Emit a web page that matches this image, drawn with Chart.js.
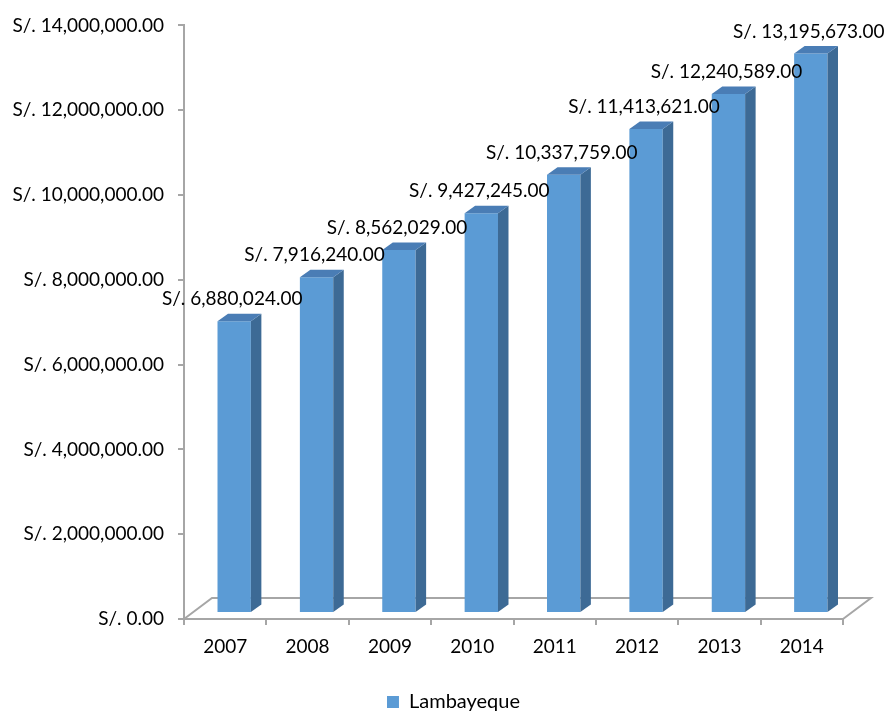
<!DOCTYPE html>
<html>
<head>
<meta charset="utf-8">
<script src="https://cdn.jsdelivr.net/npm/chart.js@4.4.1/dist/chart.umd.min.js"></script>
<style>
  html, body { margin: 0; padding: 0; background: #fff; }
  #wrap { width: 886px; height: 712px; }
</style>
</head>
<body>
<div id="wrap"><canvas id="chart" width="886" height="712"></canvas></div>
<script>
// Lambayeque yearly amounts
const years = ['2007', '2008', '2009', '2010', '2011', '2012', '2013', '2014'];
const lambayeque = [6880024, 7916240, 8562029, 9427245, 10337759, 11413621, 12240589, 13195673];
const yTicks = [0, 2000000, 4000000, 6000000, 8000000, 10000000, 12000000, 14000000];

const FONT = 'Lato';
const axisGray = '#a6a6a6';
const front = '#5b9bd5';
const side = '#3d6a95';
const topFace = '#4a7db5';

// offsets for the pseudo-3D look
const shift = { x: 9, y: -6 };     // bars sit a bit back on the floor
const depth = { x: 10.5, y: -7.5 }; // bar thickness
const floorDepth = { x: 28, y: -21 };

function soles(v) {
    return 'S/. ' + v.toLocaleString('en-US', { minimumFractionDigits: 2, maximumFractionDigits: 2 });
}

// floor drawn under the bars
const floorPlugin = {
    id: 'floor',
    afterLayout(chart) {
        // nudge the legend to the right a little
        chart.legend.left += 32;
        chart.legend.right += 32;
    },
    beforeDatasetsDraw(chart) {
        const { ctx, chartArea: a } = chart;
        ctx.save();
        ctx.strokeStyle = axisGray;
        ctx.lineWidth = 2;
        ctx.beginPath();
        ctx.moveTo(a.left, a.bottom);
        ctx.lineTo(a.left + floorDepth.x, a.bottom + floorDepth.y);
        ctx.lineTo(a.right + floorDepth.x, a.bottom + floorDepth.y);
        ctx.lineTo(a.right, a.bottom);
        ctx.stroke();
        ctx.restore();
    }
};

// moves the bars back and adds side and top faces
const boxPlugin = {
    id: 'box3d',
    beforeDatasetDraw(chart) {
        chart.ctx.save();
        chart.ctx.translate(shift.x, shift.y);
    },
    afterDatasetDraw(chart, args) {
        const ctx = chart.ctx;
        args.meta.data.forEach(bar => {
            const p = bar.getProps(['x', 'y', 'base', 'width'], true);
            const l = p.x - p.width / 2, r = p.x + p.width / 2;
            ctx.fillStyle = side;
            ctx.beginPath();
            ctx.moveTo(r, p.y);
            ctx.lineTo(r + depth.x, p.y + depth.y);
            ctx.lineTo(r + depth.x, p.base + depth.y);
            ctx.lineTo(r, p.base);
            ctx.closePath();
            ctx.fill();
            ctx.fillStyle = topFace;
            ctx.beginPath();
            ctx.moveTo(l, p.y);
            ctx.lineTo(l + depth.x, p.y + depth.y);
            ctx.lineTo(r + depth.x, p.y + depth.y);
            ctx.lineTo(r, p.y);
            ctx.closePath();
            ctx.fill();
        });
        ctx.restore();
    },
    afterDatasetsDraw(chart) {
        const ctx = chart.ctx;
        const meta = chart.getDatasetMeta(0);
        ctx.save();
        ctx.font = '19px ' + FONT;
        ctx.fillStyle = '#000';
        ctx.textAlign = 'center';
        ctx.textBaseline = 'middle';
        meta.data.forEach((bar, i) => {
            const p = bar.getProps(['x', 'y'], true);
            ctx.fillText(soles(lambayeque[i]), p.x + shift.x - 2, p.y + shift.y - 22);
        });
        ctx.restore();
    }
};

new Chart(document.getElementById('chart'), {
    type: 'bar',
    data: {
        labels: years,
        datasets: [{
            label: 'Lambayeque',
            data: lambayeque,
            backgroundColor: front,
            borderWidth: 0,
            categoryPercentage: 1,
            barPercentage: 0.405
        }]
    },
    options: {
        responsive: false,
        animation: false,
        layout: { padding: { top: 22, right: 43, bottom: -10, left: 0 } },
        plugins: {
            legend: {
                position: 'bottom',
                labels: {
                    font: { family: FONT, size: 20 },
                    color: '#000',
                    boxWidth: 12,
                    boxHeight: 12,
                    padding: 0
                }
            },
            tooltip: { enabled: false }
        },
        scales: {
            x: {
                grid: { drawOnChartArea: false, drawTicks: true, tickLength: 6, color: axisGray, lineWidth: 2 },
                border: { display: true, color: axisGray, width: 2 },
                ticks: { font: { family: FONT, size: 19 }, color: '#000', padding: 10 },
                afterFit(scale) { scale.height = 73; }
            },
            y: {
                min: 0,
                max: 14000000,
                afterBuildTicks(scale) { scale.ticks = yTicks.map(v => ({ value: v })); },
                grid: { drawOnChartArea: false, drawTicks: true, tickLength: 6, color: axisGray, lineWidth: 2 },
                border: { display: true, color: axisGray, width: 2 },
                ticks: { font: { family: FONT, size: 19 }, color: '#000', padding: 14, callback: v => soles(v) },
                afterFit(scale) { scale.width = 184; }
            }
        }
    },
    plugins: [floorPlugin, boxPlugin]
});
</script>
</body>
</html>
